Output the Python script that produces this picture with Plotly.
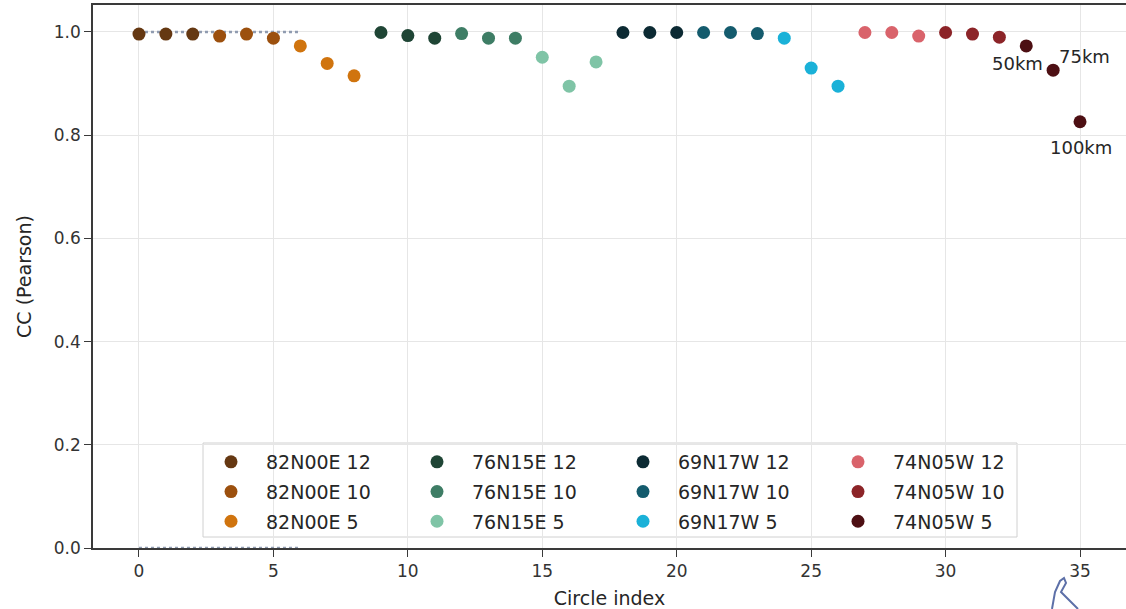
import plotly.graph_objects as go

# ---------------- data ----------------
circle_index = [0, 1, 2, 3, 4, 5, 6, 7, 8,
                9, 10, 11, 12, 13, 14, 15, 16, 17,
                18, 19, 20, 21, 22, 23, 24, 25, 26,
                27, 28, 29, 30, 31, 32, 33, 34, 35]
cc_pearson = [0.996, 0.996, 0.996, 0.992, 0.996, 0.988, 0.973, 0.939, 0.915,
              0.999, 0.993, 0.988, 0.997, 0.988, 0.988, 0.951, 0.895, 0.942,
              0.999, 0.999, 0.999, 0.999, 0.999, 0.997, 0.988, 0.930, 0.895,
              0.999, 0.999, 0.992, 0.999, 0.996, 0.990, 0.973, 0.926, 0.826]
series_names = ["82N00E 12", "82N00E 10", "82N00E 5",
                "76N15E 12", "76N15E 10", "76N15E 5",
                "69N17W 12", "69N17W 10", "69N17W 5",
                "74N05W 12", "74N05W 10", "74N05W 5"]
series_colors = ["#653812", "#9c500e", "#d0740e",
                 "#1f4535", "#3e7d65", "#7fc4a6",
                 "#0c2a33", "#145b6d", "#1ab1d8",
                 "#d9636b", "#8c2428", "#4d0f13"]
points_per_series = 3
ref_levels = [1.0, 0.0]
ref_span = [0, 6]
annot_text = ["50km", "75km", "100km"]
annot_x = [32.68, 35.16, 35.03]
annot_y = [0.938, 0.952, 0.777]

FONT = "DejaVu Sans"
fig = go.Figure()

# reference dotted lines
for lvl in ref_levels:
    fig.add_trace(go.Scatter(x=ref_span, y=[lvl, lvl], mode="lines",
                             line=dict(color="#8f9bb0", width=2.5, dash="dot"),
                             showlegend=False, hoverinfo="skip"))

legend_keys = ["legend", "legend2", "legend3", "legend4"]
for i, (name, color) in enumerate(zip(series_names, series_colors)):
    s = i * points_per_series
    fig.add_trace(go.Scatter(
        x=circle_index[s:s + points_per_series],
        y=cc_pearson[s:s + points_per_series],
        mode="markers", name=name,
        marker=dict(color=color, size=13, line=dict(width=0)),
        legend=legend_keys[i // 3], legendgroup=name))

for t, x, y in zip(annot_text, annot_x, annot_y):
    fig.add_annotation(x=x, y=y, text=t, showarrow=False, xanchor="center",
                       yanchor="middle", font=dict(family=FONT, size=18, color="#262626"))

W, H = 1126, 609
L, R, T, B = 93, 0, 5, 61
pw, ph = W - L - R, H - T - B


def px_x(p):
    return (p - L) / pw


def px_y(p):
    return (H - B - p) / ph


# legend frame
fig.add_shape(type="rect", xref="paper", yref="paper",
              x0=px_x(203), x1=px_x(1017), y0=px_y(537), y1=px_y(443),
              fillcolor="rgba(255,255,255,0.8)", line=dict(color="#d0d0d0", width=1),
              layer="between")

# small pen-cursor artifact at the lower right
pts = [(1052, 609), (1055, 592), (1060, 581), (1064, 578), (1066, 583), (1061, 592), (1078, 609)]
path = "M " + " L ".join(f"{px_x(a):.5f},{px_y(b):.5f}" for a, b in pts)
fig.add_shape(type="path", xref="paper", yref="paper", path=path,
              line=dict(color="#5d70a8", width=2))

legend_left_px = [196, 402, 608, 823]
legend_common = dict(bgcolor="rgba(0,0,0,0)", borderwidth=0, yanchor="top", xanchor="left",
                     font=dict(family=FONT, size=19, color="#262626"),
                     tracegroupgap=2, itemwidth=60, y=px_y(443))
layout_legends = {}
for key, lx in zip(legend_keys, legend_left_px):
    layout_legends[key] = dict(x=px_x(lx), **legend_common)

fig.update_layout(
    width=W, height=H,
    margin=dict(l=L, r=R, t=T, b=B),
    paper_bgcolor="white", plot_bgcolor="white",
    font=dict(family=FONT, color="#262626"),
    **layout_legends,
)
fig.update_xaxes(range=[-1.71, 36.71], tickvals=[0, 5, 10, 15, 20, 25, 30, 35],
                 showgrid=True, gridcolor="#e6e6e6", gridwidth=1, zeroline=False,
                 showline=True, linecolor="#3a3a3a", linewidth=1.5, mirror=True,
                 ticks="outside", ticklen=7, tickcolor="#3a3a3a",
                 tickfont=dict(family=FONT, size=17, color="#333333"),
                 title=dict(text="Circle index", font=dict(family=FONT, size=19), standoff=14))
fig.update_yaxes(range=[0, 1.0523], tickvals=[0, 0.2, 0.4, 0.6, 0.8, 1.0], tickformat=".1f",
                 showgrid=True, gridcolor="#e6e6e6", gridwidth=1, zeroline=False,
                 showline=True, linecolor="#3a3a3a", linewidth=1.5, mirror=False,
                 ticks="outside", ticklen=7, tickcolor="#3a3a3a",
                 tickfont=dict(family=FONT, size=17, color="#333333"),
                 title=dict(text="CC (Pearson)", font=dict(family=FONT, size=19), standoff=17))

fig.write_html("out.html")
